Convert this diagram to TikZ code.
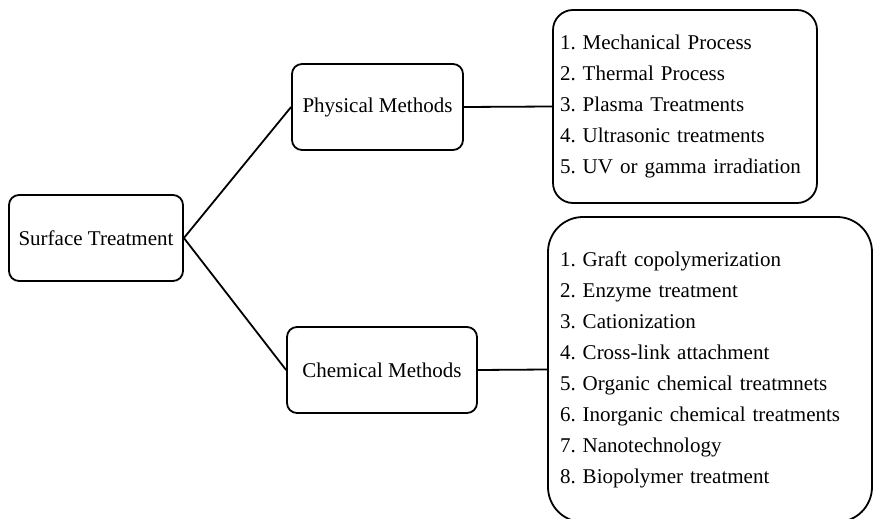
\documentclass[tikz,border=0pt]{standalone}
\usepackage{fontspec}
\setmainfont{Liberation Serif}
\frenchspacing
\begin{document}
\begin{tikzpicture}[x=1pt,y=-1pt,
  box/.style={draw,line width=1.8pt,rounded corners=10pt,inner sep=0pt,
    font=\fontsize{21}{31}\selectfont\frenchspacing},
  listbox/.style={box,align=left,inner xsep=7pt},
  link/.style={line width=1.8pt}]
\clip (0,0) rectangle (873,519);
\node[box,minimum width=174pt,minimum height=86pt] (surf) at (96,238) {Surface Treatment};
\node[box,minimum width=171pt,minimum height=86pt] (phys) at (377.5,107) {Physical Methods};
\node[box,minimum width=190pt,minimum height=86pt] (chem) at (382,370) {Chemical Methods};
\node[listbox,rounded corners=20pt,minimum width=264pt,minimum height=193pt,text width=250pt] (plist) at (685,106.5) {%
1. Mechanical Process\\
2. Thermal Process\\
3. Plasma Treatments\\
4. Ultrasonic treatments\\
5. UV or gamma irradiation};
\node[listbox,rounded corners=35pt,inner xsep=12pt,minimum width=324pt,minimum height=305pt,text width=300pt] (clist) at (710,369.5) {%
1. Graft copolymerization\\
2. Enzyme treatment\\
3. Cationization\\
4. Cross-link attachment\\
5. Organic chemical treatmnets\\
6. Inorganic chemical treatments\\
7. Nanotechnology\\
8. Biopolymer treatment};
\draw[link] (surf.east) -- (phys.west);
\draw[link] (surf.east) -- (chem.west);
\draw[link] (phys.east) -- (plist.west);
\draw[link] (chem.east) -- (clist.west);
\end{tikzpicture}
\end{document}
